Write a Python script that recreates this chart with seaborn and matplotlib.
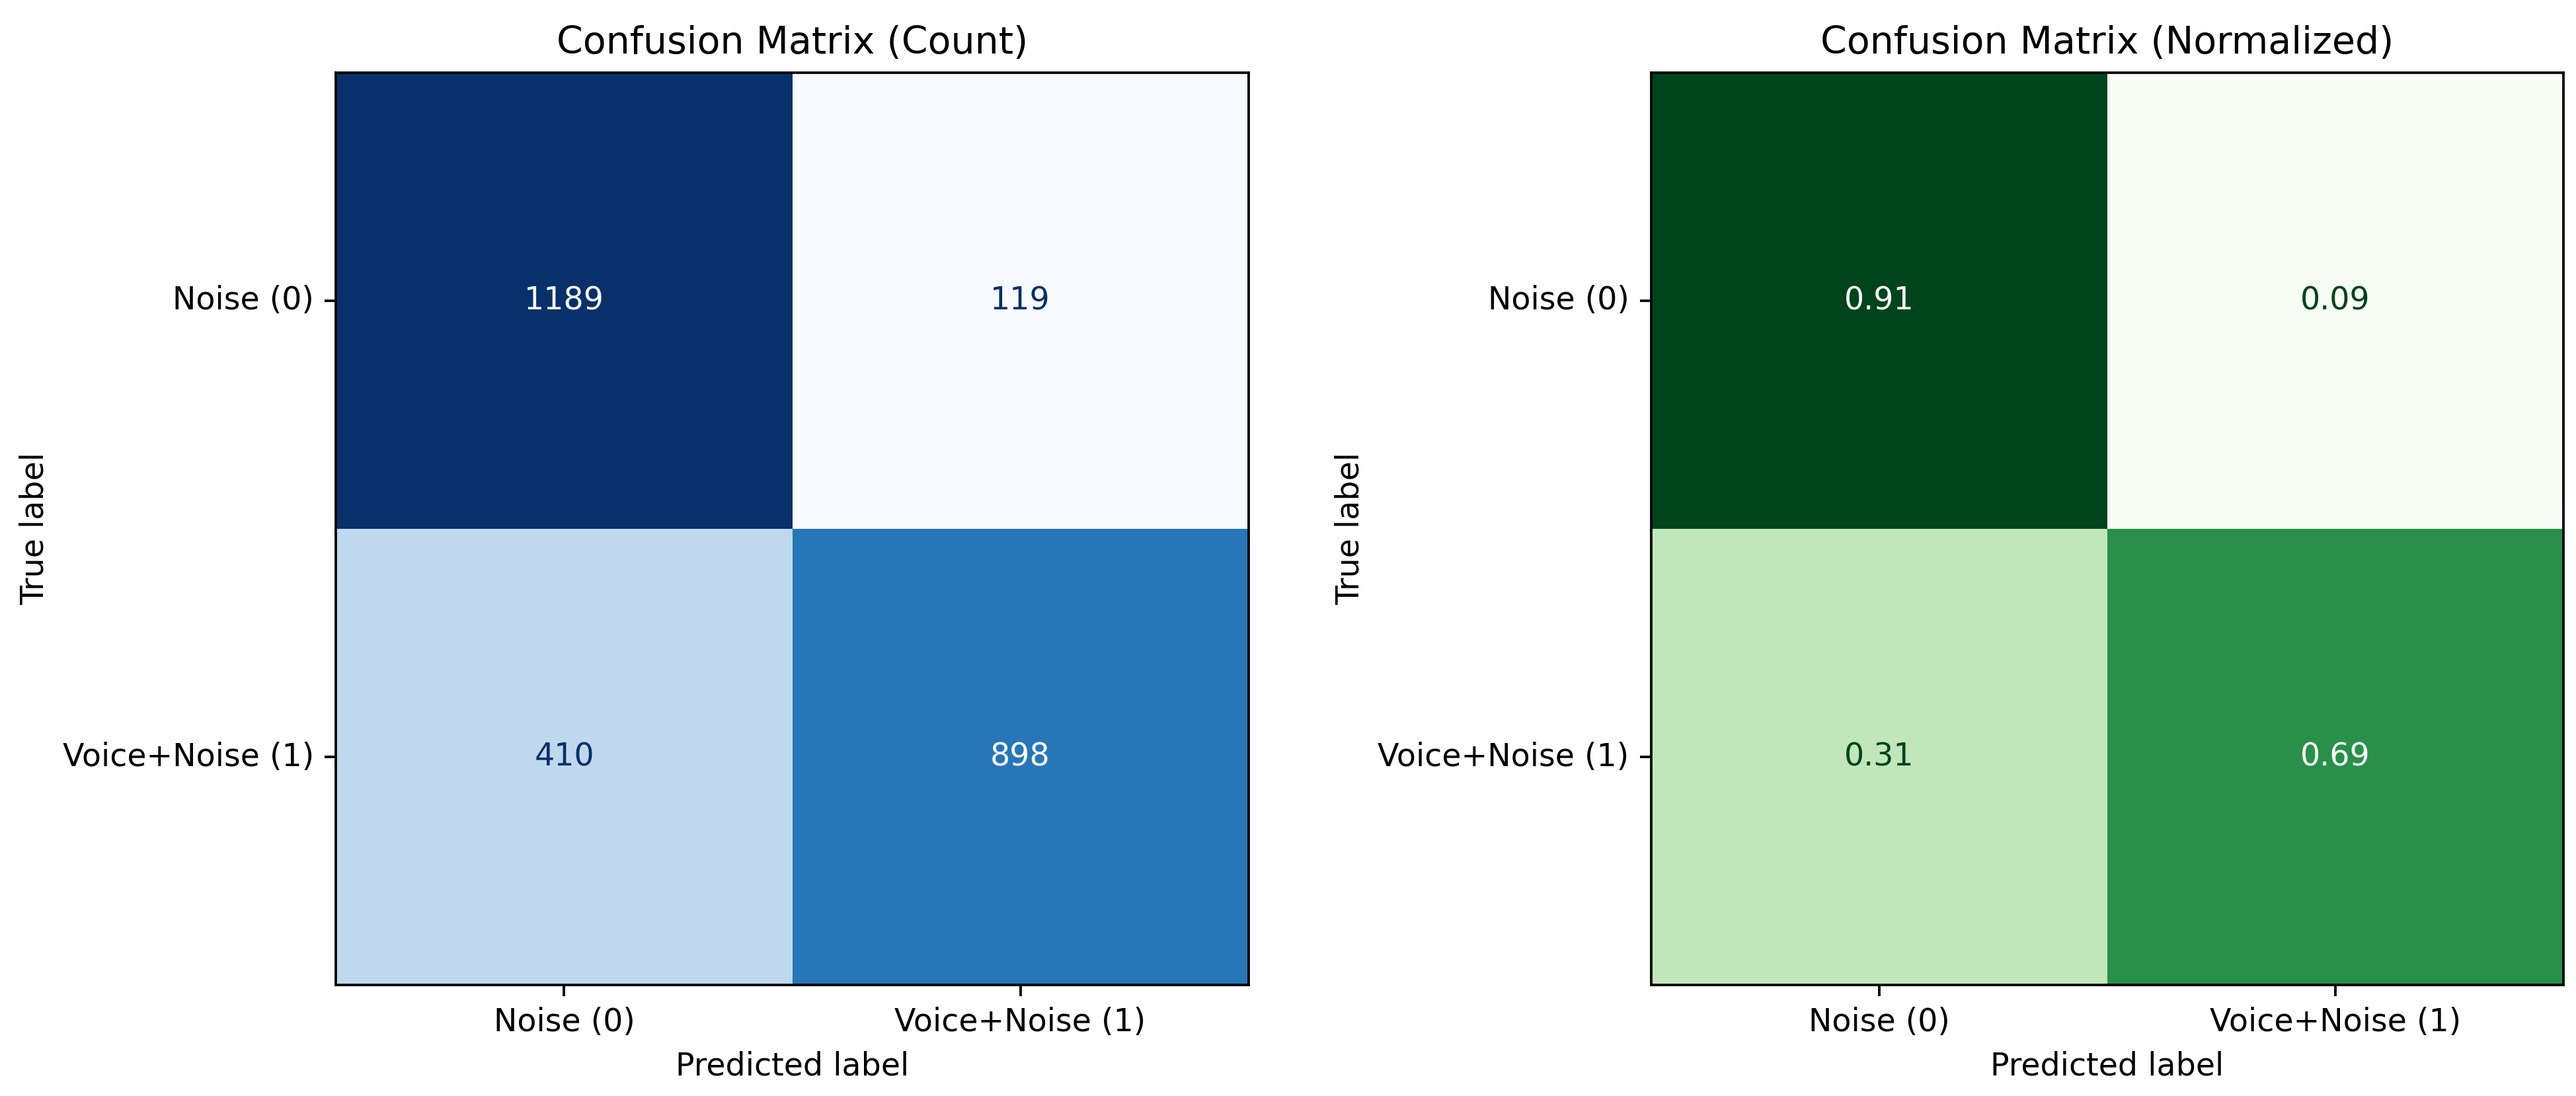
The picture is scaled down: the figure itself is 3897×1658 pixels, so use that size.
import numpy as np
import matplotlib
matplotlib.use("Agg")
import matplotlib.pyplot as plt
import seaborn as sns

# class names shown on both axes
class_names = ["Noise (0)", "Voice+Noise (1)"]

# counts (rows = true label, cols = predicted label)
counts = [[1189, 119],
          [410, 898]]

# row-normalised values
normalized = [[0.909, 0.091],
              [0.313, 0.687]]

DPI = 342


def draw_cm(ax, values, cmap_name, fmt, title):
    cmap = plt.get_cmap(cmap_name)
    data = np.array(values, dtype=float)
    sns.heatmap(data, ax=ax, cmap=cmap_name, cbar=False, annot=True, fmt=fmt,
                annot_kws={"fontsize": 10}, square=True,
                xticklabels=class_names, yticklabels=class_names)
    # sklearn style text colors: dark text on light cells, light on dark
    thresh = (data.max() + data.min()) / 2.0
    flat = data.ravel()
    for txt, v in zip(ax.texts, flat):
        txt.set_color(cmap(0.0) if v >= thresh else cmap(1.0))
    for s in ax.spines.values():
        s.set_visible(True)
        s.set_linewidth(0.8)
        s.set_color("black")
    ax.tick_params(axis="both", length=3.5, width=0.8, labelsize=10)
    ax.set_yticklabels(class_names, rotation=0)
    ax.set_xticklabels(class_names, rotation=0)
    ax.set_xlabel("Predicted label", fontsize=10)
    ax.set_ylabel("True label", fontsize=10)
    ax.set_title(title, fontsize=12)


fig = plt.figure(figsize=(3897 / DPI, 1658 / DPI), dpi=DPI)
ax1 = fig.add_axes([0.1304, 0.1013, 0.3543, 0.8324])
ax2 = fig.add_axes([0.6407, 0.1013, 0.3547, 0.8324])

draw_cm(ax1, counts, "Blues", ".0f", "Confusion Matrix (Count)")
draw_cm(ax2, normalized, "Greens", ".2f", "Confusion Matrix (Normalized)")

fig.savefig("out.png", dpi=DPI)
